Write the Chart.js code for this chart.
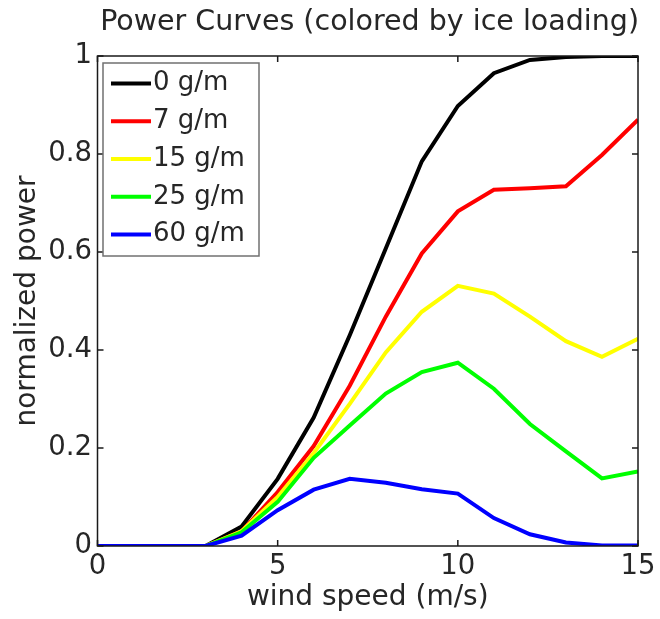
<!DOCTYPE html>
<html>
<head>
<meta charset="utf-8">
<title>Power Curves</title>
<script src="https://cdn.jsdelivr.net/npm/chart.js@4.4.0/dist/chart.umd.min.js"></script>
<style>
  html, body { margin: 0; padding: 0; background: #fff; }
  #wrap { width: 660px; height: 619px; }
</style>
</head>
<body>
<div id="wrap"><canvas id="powerChart" width="660" height="619"></canvas></div>
<script>
// wind speed bins (m/s)
const windSpeed = [0, 1, 2, 3, 4, 5, 6, 7, 8, 9, 10, 11, 12, 13, 14, 15];

// normalized power per ice loading
const ice0 = [0, 0, 0, 0, 0.040, 0.137, 0.262, 0.430, 0.607, 0.785, 0.898, 0.965, 0.992, 0.998, 1.0, 1.0];
const ice7 = [0, 0, 0, 0, 0.030, 0.110, 0.204, 0.327, 0.468, 0.597, 0.683, 0.727, 0.730, 0.734, 0.798, 0.870];
const ice15 = [0, 0, 0, 0, 0.030, 0.100, 0.190, 0.290, 0.395, 0.478, 0.531, 0.515, 0.468, 0.418, 0.386, 0.423];
const ice25 = [0, 0, 0, 0, 0.028, 0.090, 0.180, 0.246, 0.311, 0.355, 0.374, 0.321, 0.249, 0.193, 0.138, 0.152];
const ice60 = [0, 0, 0, 0, 0.021, 0.073, 0.115, 0.137, 0.129, 0.116, 0.107, 0.057, 0.024, 0.007, 0.001, 0.001];

const seriesLabels = ['0 g/m', '7 g/m', '15 g/m', '25 g/m', '60 g/m'];
const seriesValues = [ice0, ice7, ice15, ice25, ice60];
const seriesColors = ['#000000', '#ff0000', '#ffff00', '#00ff00', '#0000ff'];

const xTicks = [0, 5, 10, 15];
const yTicks = [0, 0.2, 0.4, 0.6, 0.8, 1];

const FONT = '"DejaVu Sans", sans-serif';
const TEXT = '#262626';
const FRAME = '#1a1a1a';

// frame box with inward tick marks on all four sides
const framePlugin = {
    id: 'frame',
    afterDatasetsDraw(chart) {
        const { ctx, chartArea: a, scales } = chart;
        const len = 6;
        ctx.save();
        ctx.strokeStyle = FRAME;
        ctx.lineWidth = 1.5;
        ctx.beginPath();
        xTicks.forEach(v => {
            const px = scales.x.getPixelForValue(v);
            ctx.moveTo(px, a.bottom); ctx.lineTo(px, a.bottom - len);
            ctx.moveTo(px, a.top); ctx.lineTo(px, a.top + len);
        });
        yTicks.forEach(v => {
            const py = scales.y.getPixelForValue(v);
            ctx.moveTo(a.left, py); ctx.lineTo(a.left + len, py);
            ctx.moveTo(a.right, py); ctx.lineTo(a.right - len, py);
        });
        ctx.stroke();
        ctx.strokeRect(a.left, a.top, a.right - a.left, a.bottom - a.top);
        ctx.restore();
    }
};

// legend box in the upper left of the plot
const legendBox = {
    id: 'legendBox',
    afterDraw(chart) {
        const { ctx } = chart;
        const left = 103, top = 63, w = 156, h = 193;
        const rowY = 83.5, rowStep = 37.75;
        ctx.save();
        ctx.fillStyle = '#ffffff';
        ctx.fillRect(left, top, w, h);
        ctx.strokeStyle = '#707070';
        ctx.lineWidth = 1.5;
        ctx.strokeRect(left, top, w, h);
        ctx.font = '26px ' + FONT;
        ctx.textBaseline = 'middle';
        ctx.textAlign = 'left';
        chart.data.datasets.forEach((ds, i) => {
            const y = rowY + i * rowStep;
            ctx.strokeStyle = ds.borderColor;
            ctx.lineWidth = 4;
            ctx.beginPath();
            ctx.moveTo(111, y);
            ctx.lineTo(151, y);
            ctx.stroke();
            ctx.fillStyle = TEXT;
            ctx.fillText(ds.label, 153, y);
        });
        ctx.restore();
    }
};

const ctx = document.getElementById('powerChart').getContext('2d');

new Chart(ctx, {
    type: 'line',
    data: {
        datasets: seriesLabels.map((label, i) => ({
            label: label,
            data: windSpeed.map((x, j) => ({ x: x, y: seriesValues[i][j] })),
            borderColor: seriesColors[i],
            backgroundColor: seriesColors[i],
            borderWidth: 4,
            pointRadius: 0,
            tension: 0,
            // later series sit on top
            order: seriesLabels.length - i
        }))
    },
    options: {
        responsive: false,
        animation: false,
        events: [],
        layout: { padding: { left: 0, right: 21, top: 0, bottom: 0 } },
        plugins: {
            legend: { display: false },
            tooltip: { enabled: false },
            title: {
                display: true,
                text: 'Power Curves (colored by ice loading)',
                align: 'end',
                color: TEXT,
                font: { family: FONT, size: 28.5, weight: 'normal', lineHeight: 1.2 },
                padding: { top: 5, bottom: 16.8 }
            }
        },
        scales: {
            x: {
                type: 'linear',
                min: 0,
                max: 15,
                afterBuildTicks(scale) { scale.ticks = xTicks.map(v => ({ value: v })); },
                afterFit(scale) { scale.height = 73; },
                grid: { display: false, drawTicks: false },
                border: { display: false },
                ticks: {
                    color: TEXT,
                    padding: 4.5,
                    maxRotation: 0,
                    font: { family: FONT, size: 27.5, lineHeight: 1.2 },
                    callback: v => String(v)
                },
                title: {
                    display: true,
                    text: 'wind speed (m/s)',
                    color: TEXT,
                    font: { family: FONT, size: 28, lineHeight: 1.2 },
                    padding: { top: 0, bottom: 4.2 }
                }
            },
            y: {
                type: 'linear',
                min: 0,
                max: 1,
                afterBuildTicks(scale) { scale.ticks = yTicks.map(v => ({ value: v })); },
                afterFit(scale) { scale.width = 97.5; },
                grid: { display: false, drawTicks: false },
                border: { display: false },
                ticks: {
                    color: TEXT,
                    padding: 5.5,
                    font: { family: FONT, size: 27.5, lineHeight: 1.2 },
                    callback: v => String(v)
                },
                title: {
                    display: true,
                    text: 'normalized power',
                    color: TEXT,
                    font: { family: FONT, size: 28, lineHeight: 1.2 },
                    padding: { top: 11.2, bottom: 0 }
                }
            }
        }
    },
    plugins: [framePlugin, legendBox]
});
</script>
</body>
</html>
